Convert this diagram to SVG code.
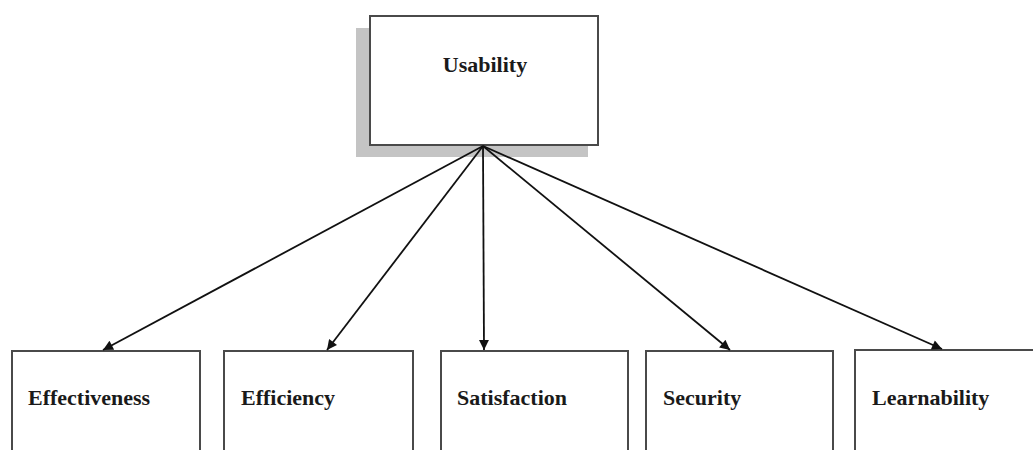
<svg xmlns="http://www.w3.org/2000/svg" width="1033" height="450" viewBox="0 0 1033 450">
<style>
.box{fill:#fff;stroke:#4a4a4a;stroke-width:2}
.shadow{fill:#c4c4c4}
.lbl{font-family:"Liberation Serif","Times New Roman",serif;font-weight:bold;font-size:22px;fill:#1a1a1a}
.edge{stroke:#111;stroke-width:1.8;fill:none;marker-end:url(#arr)}
</style>
<defs>
<marker id="arr" viewBox="0 0 10 10" refX="10" refY="5" markerWidth="13" markerHeight="10" markerUnits="userSpaceOnUse" orient="auto">
<path d="M0,0 L10,5 L0,10 z" fill="#111"/>
</marker>
</defs>
<rect width="1033" height="450" fill="#fff"/>
<g id="usability">
<rect class="shadow" x="356" y="28" width="232" height="129"/>
<rect class="box" x="370" y="16" width="228" height="129"/>
<text class="lbl" x="485" y="72" text-anchor="middle">Usability</text>
</g>
<g id="effectiveness">
<rect class="box" x="12" y="351" width="188" height="110"/>
<text class="lbl" x="28" y="405">Effectiveness</text>
</g>
<g id="efficiency">
<rect class="box" x="224" y="351" width="189" height="110"/>
<text class="lbl" x="241" y="405">Efficiency</text>
</g>
<g id="satisfaction">
<rect class="box" x="441" y="351" width="187" height="110"/>
<text class="lbl" x="457" y="405">Satisfaction</text>
</g>
<g id="security">
<rect class="box" x="646" y="351" width="187" height="110"/>
<text class="lbl" x="663" y="405">Security</text>
</g>
<g id="learnability">
<rect class="box" x="855" y="350" width="200" height="110"/>
<text class="lbl" x="872" y="405">Learnability</text>
</g>
<g id="connectors">
<line class="edge" x1="483" y1="146" x2="103" y2="350"/>
<line class="edge" x1="483" y1="146" x2="327" y2="350"/>
<line class="edge" x1="483" y1="146" x2="484" y2="350"/>
<line class="edge" x1="483" y1="146" x2="730" y2="350"/>
<line class="edge" x1="483" y1="146" x2="942" y2="349"/>
</g>
</svg>
